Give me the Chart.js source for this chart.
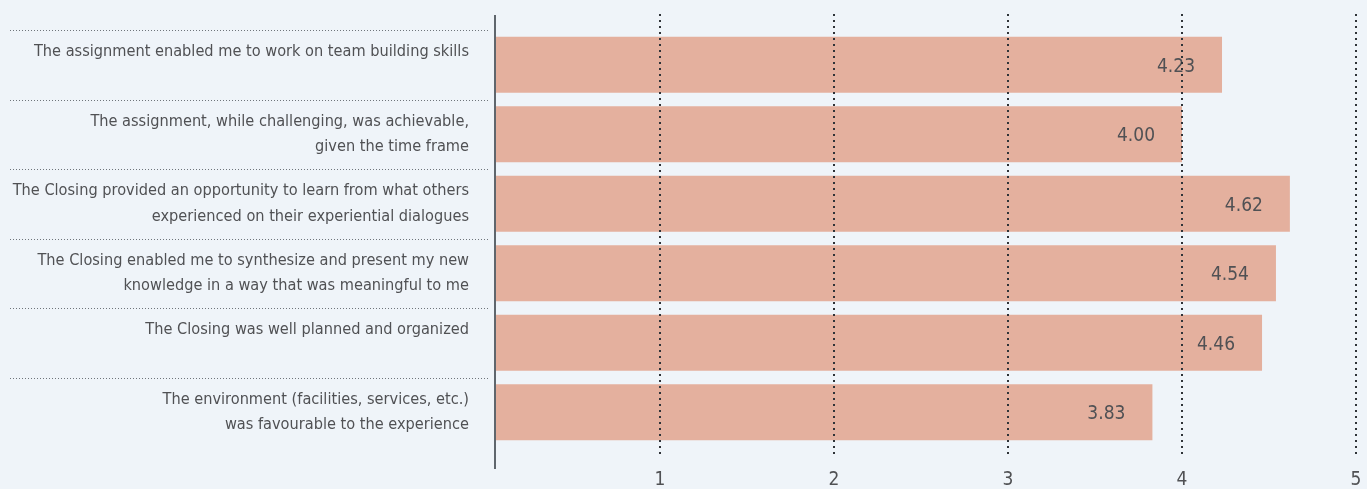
<!DOCTYPE html>
<html><head><meta charset="utf-8">
<style>html,body{margin:0;padding:0;background:#eff4f9;}#wrap{width:1367px;height:489px;position:relative}</style>
<script src="https://cdn.jsdelivr.net/npm/chart.js@4"></script>
</head><body><div id="wrap"><canvas id="c" width="1367" height="489"></canvas></div>
<script>
const categories = [
  ["The assignment enabled me to work on team building skills", ""],
  ["The assignment, while challenging, was achievable,", "given the time frame"],
  ["The Closing provided an opportunity to learn from what others", "experienced on their experiential dialogues"],
  ["The Closing enabled me to synthesize and present my new", "knowledge in a way that was meaningful to me"],
  ["The Closing was well planned and organized", ""],
  ["The environment (facilities, services, etc.)", "was favourable to the experience"]
];
const values = [4.23, 4.00, 4.62, 4.54, 4.46, 3.83];
const xTicks = [1, 2, 3, 4, 5];

const FONT = "'DejaVu Sans Condensed','Liberation Sans Narrow',sans-serif";
const TEXT = '#505154';

const decor = {
  id: 'decor',
  beforeDatasetsDraw(chart) {
    const { ctx, chartArea, scales: { y } } = chart;
    const band = y.getPixelForValue(1) - y.getPixelForValue(0);
    ctx.save();
    ctx.strokeStyle = '#6f757b';
    ctx.lineWidth = 1;
    ctx.setLineDash([1, 2]);
    categories.forEach((c, i) => {
      const yy = Math.round(y.getPixelForValue(i) - band / 2) + 0.5;
      ctx.beginPath();
      ctx.moveTo(10, yy);
      ctx.lineTo(chartArea.left - 5, yy);
      ctx.stroke();
    });
    ctx.restore();
  },
  afterDatasetsDraw(chart) {
    const { ctx, chartArea, scales: { x } } = chart;
    const meta = chart.getDatasetMeta(0);
    ctx.save();
    ctx.font = `19px ${FONT}`;
    ctx.fillStyle = TEXT;
    ctx.textAlign = 'right';
    ctx.textBaseline = 'middle';
    meta.data.forEach((bar, i) => ctx.fillText(values[i].toFixed(2), bar.x - 27, bar.y + 2));
    ctx.strokeStyle = '#2f3338';
    ctx.lineWidth = 2;
    ctx.setLineDash([2, 4]);
    xTicks.forEach(t => {
      const xx = Math.round(x.getPixelForValue(t));
      ctx.beginPath();
      ctx.moveTo(xx, 14);
      ctx.lineTo(xx, 456);
      ctx.stroke();
    });
    ctx.setLineDash([]);
    ctx.strokeStyle = '#5f666d';
    ctx.lineWidth = 2;
    ctx.beginPath();
    ctx.moveTo(chartArea.left, 15);
    ctx.lineTo(chartArea.left, 469);
    ctx.stroke();
    ctx.restore();
  }
};

new Chart(document.getElementById('c'), {
  type: 'bar',
  data: {
    labels: categories,
    datasets: [{
      data: values,
      backgroundColor: '#e4b09e',
      borderWidth: 0,
      categoryPercentage: 1,
      barPercentage: 0.807
    }]
  },
  options: {
    indexAxis: 'y',
    responsive: false,
    animation: false,
    layout: { padding: { top: 30, right: 11, bottom: 0, left: 0 } },
    plugins: { legend: { display: false }, tooltip: { enabled: false } },
    scales: {
      x: {
        type: 'linear',
        min: 0.0517,
        max: 5,
        afterBuildTicks: s => { s.ticks = xTicks.map(v => ({ value: v })); },
        afterFit: s => { s.height = 42; s.paddingLeft = 0; s.paddingRight = 0; },
        grid: { display: false },
        border: { display: false },
        ticks: { font: { family: FONT, size: 19 }, color: TEXT, padding: 14 }
      },
      y: {
        type: 'category',
        afterFit: s => { s.width = 495; s.paddingTop = 0; s.paddingBottom = 0; },
        grid: { display: false },
        border: { display: false },
        ticks: { font: { family: FONT, size: 16.2, lineHeight: 1.6 }, color: TEXT, padding: 18 }
      }
    }
  },
  plugins: [decor]
});
</script>
</body></html>
